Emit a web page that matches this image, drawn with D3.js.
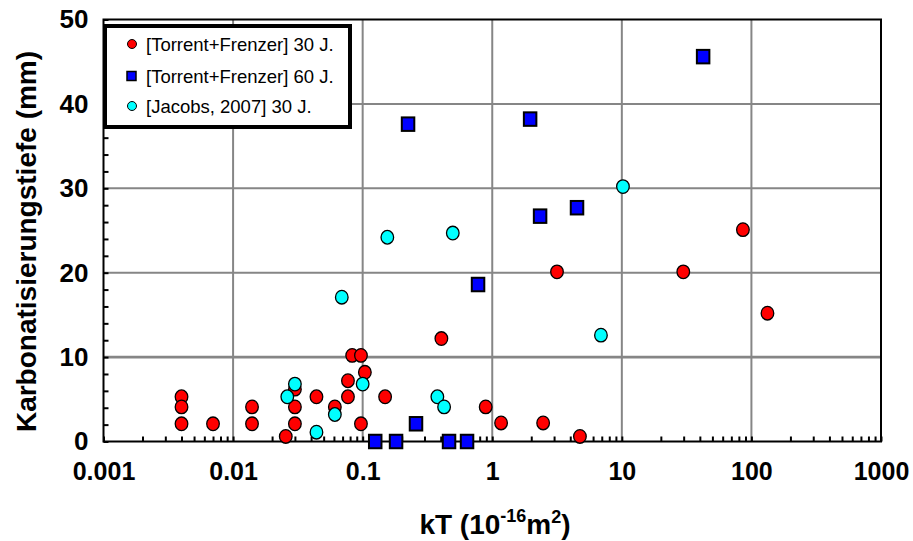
<!DOCTYPE html>
<html>
<head>
<meta charset="utf-8">
<script src="https://cdn.jsdelivr.net/npm/d3@7"></script>
<style>
  body { margin: 0; background: #fff; }
  svg { display: block; }
  text { font-family: Arial, "Liberation Sans", sans-serif; }
</style>
</head>
<body>
<svg id="chart" width="913" height="541"></svg>
<script>
// kT permeability (10^-16 m²) vs. carbonation depth (mm)
const torrent30X = [0.004, 0.004, 0.004, 0.007, 0.014, 0.014, 0.0255, 0.03, 0.03, 0.03,
                    0.044, 0.061, 0.077, 0.077, 0.083, 0.097, 0.104, 0.097, 0.149, 0.405,
                    0.89, 1.17, 2.47, 4.75, 3.16, 29.8, 86, 133];
const torrent30Y = [5.3, 4.1, 2.1, 2.1, 4.1, 2.1, 0.6, 6.2, 4.1, 2.1,
                    5.3, 4.1, 7.2, 5.3, 10.2, 10.2, 8.2, 2.1, 5.3, 12.2,
                    4.1, 2.2, 2.2, 0.6, 20.1, 20.1, 25.1, 15.2];

const torrent60X = [0.224, 1.96, 42.4, 2.34, 4.51, 0.777, 0.258, 0.125, 0.181, 0.464, 0.639];
const torrent60Y = [37.6, 38.2, 45.6, 26.7, 27.7, 18.6, 2.1, 0, 0, 0, 0];

const jacobs30X = [0.0262, 0.03, 0.044, 0.061, 0.069, 0.1, 0.155, 0.377, 0.425, 0.496, 6.9, 10.2];
const jacobs30Y = [5.3, 6.8, 1.1, 3.2, 17.1, 6.8, 24.2, 5.3, 4.1, 24.7, 12.6, 30.2];

const xTicks = [0.001, 0.01, 0.1, 1, 10, 100, 1000];
const xTickLabels = ["0.001", "0.01", "0.1", "1", "10", "100", "1000"];
const yTicks = [0, 10, 20, 30, 40, 50];
const legendLabels = ["[Torrent+Frenzer] 30 J.", "[Torrent+Frenzer] 60 J.", "[Jacobs, 2007] 30 J."];

const svg = d3.select("#chart");
const plot = { left: 103.5, right: 881, top: 19.5, bottom: 441.5 };

const x = d3.scaleLog().domain([0.001, 1000]).range([plot.left, plot.right]);
const y = d3.scaleLinear().domain([0, 50]).range([plot.bottom, plot.top]);

// gridlines
const grid = svg.append("g").attr("stroke", "#868686");
grid.selectAll("line.v").data(xTicks.slice(1, -1)).join("line")
  .attr("x1", d => x(d)).attr("x2", d => x(d))
  .attr("y1", plot.top).attr("y2", plot.bottom)
  .attr("stroke-width", 2);
grid.selectAll("line.h").data(yTicks.slice(1, -1)).join("line")
  .attr("x1", plot.left).attr("x2", plot.right)
  .attr("y1", d => y(d)).attr("y2", d => y(d))
  .attr("stroke-width", d => d === 10 ? 2.6 : 2);

// inward tick marks
const minorX = [];
xTicks.slice(0, -1).forEach(d => { for (let k = 1; k < 10; k++) minorX.push(d * k); });
minorX.push(1000);
const xAxisTicks = svg.append("g")
  .attr("transform", `translate(0,${plot.bottom})`)
  .call(d3.axisBottom(x).tickValues(minorX).tickSize(-5).tickFormat(""));
xAxisTicks.select(".domain").remove();
xAxisTicks.selectAll("line").attr("stroke", "#000").attr("stroke-width", 2);

const yAxisTicks = svg.append("g")
  .attr("transform", `translate(${plot.left},0)`)
  .call(d3.axisLeft(y).tickValues(d3.range(0, 51, 2)).tickSize(-5).tickFormat(""));
yAxisTicks.select(".domain").remove();
yAxisTicks.selectAll("line").attr("stroke", "#000").attr("stroke-width", 2);

// tick labels
const xLabels = svg.append("g")
  .attr("transform", `translate(0,${plot.bottom})`)
  .call(d3.axisBottom(x).tickValues(xTicks).tickSize(0).tickPadding(21)
    .tickFormat((d, i) => xTickLabels[i]));
xLabels.select(".domain").remove();
xLabels.selectAll("text").attr("font-size", 25).attr("font-weight", "bold")
  .attr("fill", "#000").attr("font-family", "Arial, 'Liberation Sans', sans-serif");

const yLabels = svg.append("g")
  .attr("transform", `translate(${plot.left},0)`)
  .call(d3.axisLeft(y).tickValues(yTicks).tickSize(0).tickPadding(15));
yLabels.select(".domain").remove();
yLabels.selectAll("text").attr("font-size", 26).attr("font-weight", "bold")
  .attr("fill", "#000").attr("font-family", "Arial, 'Liberation Sans', sans-serif");

// plot frame
svg.append("rect")
  .attr("x", plot.left).attr("y", plot.top)
  .attr("width", plot.right - plot.left).attr("height", plot.bottom - plot.top)
  .attr("fill", "none").attr("stroke", "#000").attr("stroke-width", 2);

// series
const pts = (xs, ys) => xs.map((v, i) => ({ x: v, y: ys[i] }));

svg.append("g").selectAll("ellipse").data(pts(torrent30X, torrent30Y)).join("ellipse")
  .attr("cx", d => x(d.x)).attr("cy", d => y(d.y)).attr("rx", 6.3).attr("ry", 6.8)
  .attr("fill", "#ff0000").attr("stroke", "#000").attr("stroke-width", 1.3);

const sqW = 12.5, sqH = 13.5;
svg.append("g").selectAll("rect").data(pts(torrent60X, torrent60Y)).join("rect")
  .attr("x", d => x(d.x) - sqW / 2).attr("y", d => y(d.y) - sqH / 2)
  .attr("width", sqW).attr("height", sqH)
  .attr("fill", "#0000ff").attr("stroke", "#000").attr("stroke-width", 2);

svg.append("g").selectAll("ellipse").data(pts(jacobs30X, jacobs30Y)).join("ellipse")
  .attr("cx", d => x(d.x)).attr("cy", d => y(d.y)).attr("rx", 6.3).attr("ry", 6.8)
  .attr("fill", "#00ffff").attr("stroke", "#000").attr("stroke-width", 1.3);

// legend
const legend = svg.append("g");
legend.append("rect").attr("x", 105).attr("y", 26).attr("width", 245).attr("height", 101)
  .attr("fill", "#fff").attr("stroke", "#000").attr("stroke-width", 4);
const rowsY = [44, 76, 106];
legend.append("circle").attr("cx", 132).attr("cy", rowsY[0]).attr("r", 4.5)
  .attr("fill", "#ff0000").attr("stroke", "#000").attr("stroke-width", 1);
legend.append("rect").attr("x", 127).attr("y", rowsY[1] - 4.5).attr("width", 9).attr("height", 9)
  .attr("fill", "#0000ff").attr("stroke", "#000").attr("stroke-width", 1.5);
legend.append("circle").attr("cx", 132).attr("cy", rowsY[2]).attr("r", 4.5)
  .attr("fill", "#00ffff").attr("stroke", "#000").attr("stroke-width", 1);
legend.selectAll("text").data(legendLabels).join("text")
  .attr("x", 146).attr("y", (d, i) => rowsY[i] + 6.5)
  .attr("font-size", 18.5).attr("fill", "#000").text(d => d);

// axis titles
svg.append("text")
  .attr("transform", `translate(36,${(plot.top + plot.bottom) / 2 + 11}) rotate(-90)`)
  .attr("text-anchor", "middle").attr("font-size", 28).attr("font-weight", "bold")
  .text("Karbonatisierungstiefe (mm)");

const xt = svg.append("text")
  .attr("x", 495).attr("y", 534).attr("text-anchor", "middle")
  .attr("font-size", 28).attr("font-weight", "bold");
xt.append("tspan").text("kT (10");
xt.append("tspan").attr("dy", -12).attr("font-size", 18).text("-16");
xt.append("tspan").attr("dy", 12).text("m");
xt.append("tspan").attr("dy", -11).attr("font-size", 18).text("2");
xt.append("tspan").attr("dy", 11).text(")");
</script>
</body>
</html>
